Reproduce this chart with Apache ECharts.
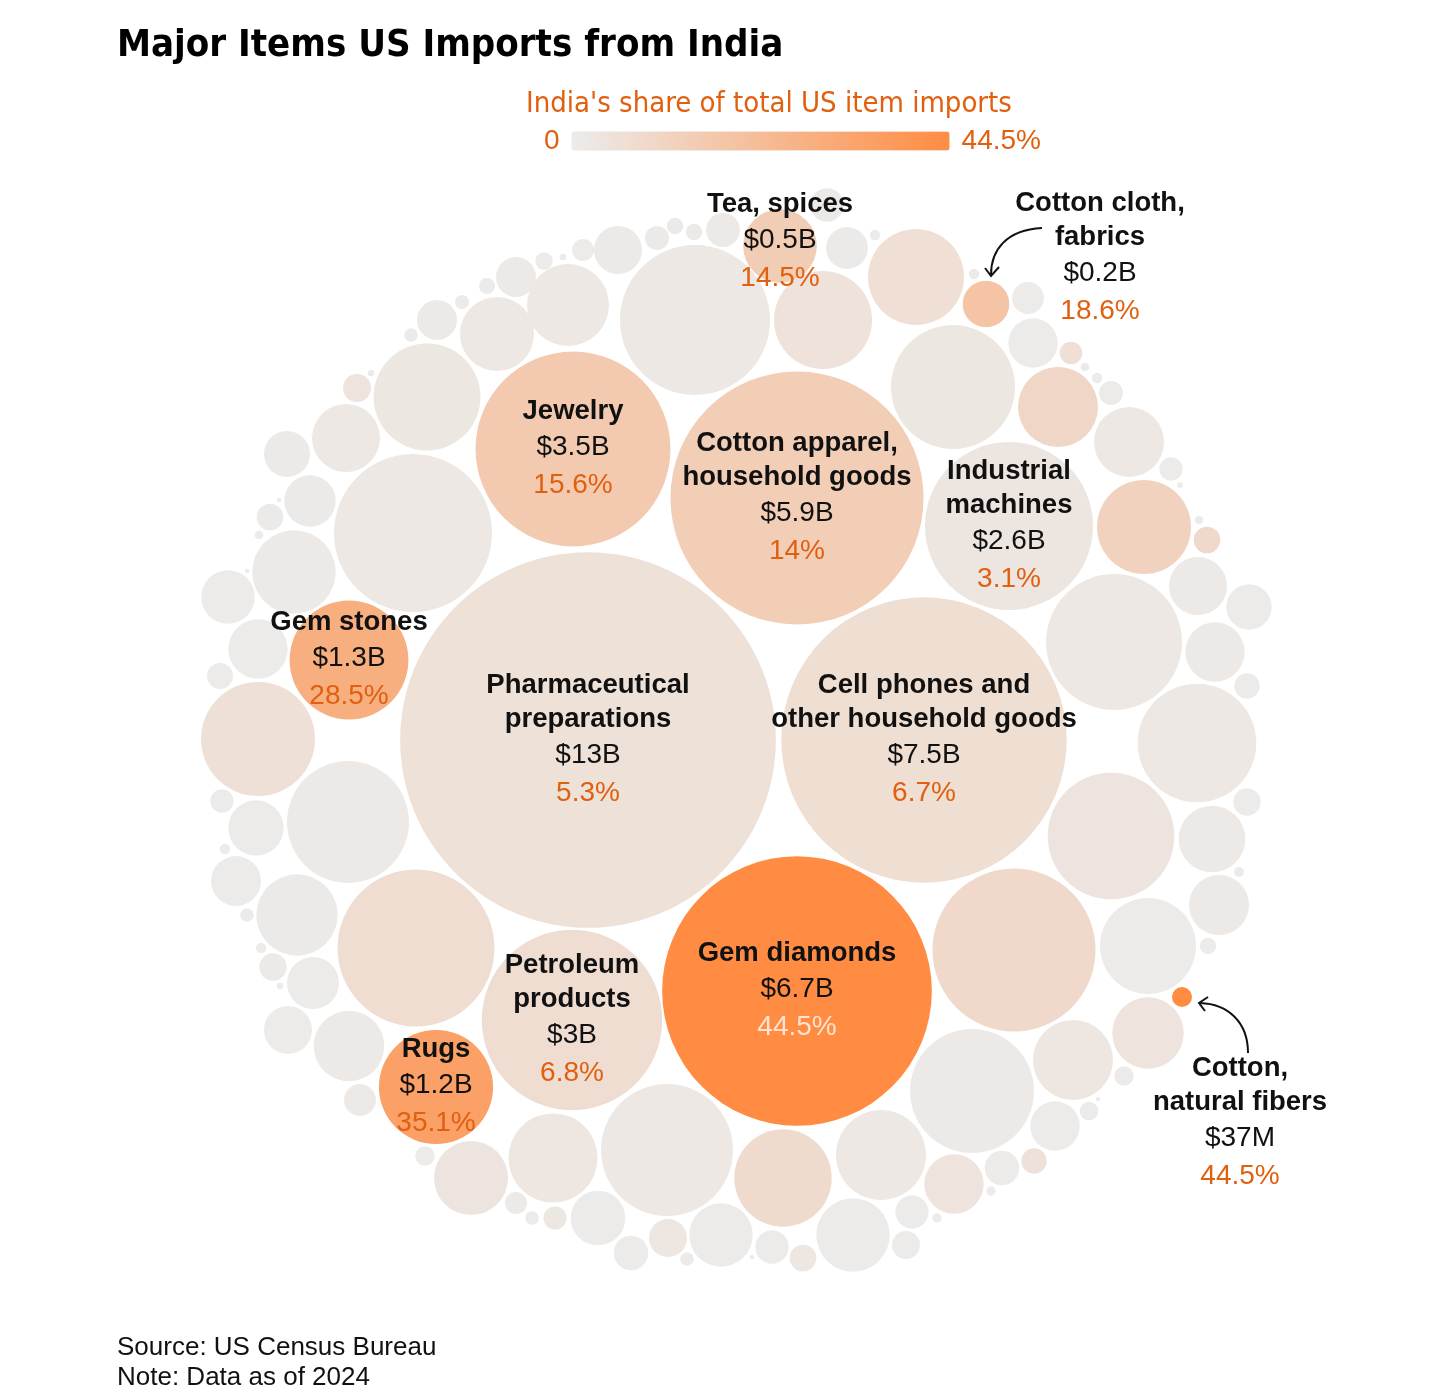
<!DOCTYPE html>
<html><head><meta charset="utf-8">
<script src="https://cdn.jsdelivr.net/npm/echarts@6/dist/echarts.min.js"></script>
<style>html,body{margin:0;padding:0;background:#fff}#c{width:1432px;height:1397px}</style>
</head><body><div id="c"></div>
<script>
// Item names ('' = unlabeled item)
const names = [
 'Pharmaceutical\npreparations','Cell phones and\nother household goods','Gem diamonds','Cotton apparel,\nhousehold goods',
 'Jewelry','Petroleum\nproducts','Industrial\nmachines','Gem stones','Rugs','Tea, spices','Cotton cloth,\nfabrics','Cotton,\nnatural fibers'
];
// Import value, $ billions
const values = [
 13,7.5,6.7,5.9,3.5,3,2.6,1.3,1.2,0.5,0.2,0.037,
 0.147,0.028,0.024,0.147,0.018,0.504,0.017,1.054,0.072,0.004,0.426,0.195,0.243,0.065,0.002,0.007,0.641,2.299,
 0.619,0.045,0.004,0.212,0.053,0.025,0.025,0.106,2.072,0.103,0.162,0.010,0.885,0.849,0.010,0.094,1.416,0.225,
 0.047,0.007,0.010,0.053,0.589,0.451,0.050,0.003,0.814,0.007,0.065,1.704,0.310,0.190,0.325,0.059,1.295,0.069,
 1.476,0.409,0.009,0.332,0.849,0.025,2.447,0.470,0.589,0.035,1.416,0.032,0.225,0.002,0.059,0.110,0.008,0.325,
 0.008,0.102,0.072,0.746,0.496,0.065,0.103,0.002,0.874,0.370,0.017,0.133,0.110,1.605,0.275,0.730,0.049,0.017,
 0.045,0.504,0.035,0.094,0.459,0.212,0.249,0.004,0.069,0.010,0.610,0.017,2.270,1.371,0.230,0.010,0.283,0.050,
 1.197,0.062,0.325,0.263,0.002
];
// India's share of total US item imports, %
const shares = [
 5.3,6.7,44.5,14,15.6,6.8,3.1,28.5,35.1,14.5,18.6,44.5,
 1.5,0.5,0.5,1.5,0.5,2,0.5,2.5,4,0.5,2,1,1,1,0.5,0.5,1.5,2,
 2,0.5,0.5,1.5,1,1,1,1.5,2,1,1,0.5,4.5,6,0.5,0.5,2.5,0.5,
 6,0.5,0.5,0.5,10,2,0.5,0.5,12,0.5,9,2,1.5,0.5,1.5,0.5,2,0.5,
 3.5,1.5,0.5,1.5,0.5,0.5,9,4,3,0.5,1.5,0.5,0.5,0.5,5,0.5,0.5,4,
 0.5,0.5,0.5,2,0.5,3,0.5,0.5,8,0.5,0.5,3,0.5,2,0.5,3,2.5,0.5,
 1,3.5,0.5,1.5,1.5,0.5,0.5,0.5,1.5,0.5,1,0.5,7,1.5,0.5,0.5,0.5,0.5,
 5.5,0.5,0.5,0.5,0.5
];
// Packed-bubble layout coordinates
const packX = [
 588,924,797,797,573,572,1009,349,436,780,986,1182,
 516,544,487,437,462,497,411,427,357,371,346,287,310,270,279,259,294,413,
 568,583,563,618,657,675,694,723,695,827,847,875,823,916,974,1028,953,1033,
 1071,1085,1097,1111,1058,1129,1171,1180,1144,1199,1207,1114,1198,1249,1215,1247,1197,1247,
 1111,1212,1239,1219,1148,1208,1014,1148,1073,1124,972,1089,1055,1098,1034,1002,991,954,
 937,912,906,881,853,803,772,752,783,721,687,668,631,667,598,553,555,532,
 516,471,425,360,349,288,313,280,273,261,297,247,416,348,236,225,256,222,
 258,220,258,228,247
];
const packY = [
 740,740,991,498,449,1020,526,660,1087,246,304,997,
 277,261,286,320,302,334,335,397,388,373,438,454,501,517,500,535,572,533,
 305,250,257,250,238,226,232,230,320,205,248,235,320,277,274,298,387,343,
 353,367,378,393,407,442,469,485,527,520,540,642,586,607,652,686,743,802,
 836,839,872,905,946,946,950,1033,1060,1076,1091,1111,1126,1099,1161,1168,1191,1184,
 1218,1212,1245,1155,1235,1258,1247,1257,1178,1235,1259,1238,1253,1150,1218,1158,1218,1218,
 1203,1178,1156,1100,1046,1030,983,986,967,948,915,915,948,822,881,849,828,801,
 739,676,649,597,571
];
const legendTicks = ['0', '44.5%'];
const maxShare = 44.5;

const F = "'Liberation Sans', Arial, sans-serif";
const FN = "'Liberation Sans Narrow', 'DejaVu Sans Condensed', 'Liberation Sans', sans-serif";
const ORANGE = '#e0600f';
const PX_PER_SQRT_B = 52.1; // bubble radius scale: r = k * sqrt(value)

function fmtValue(v) {
  if (v < 0.1) return '$' + Math.round(v * 1000) + 'M';
  return '$' + v + 'B';
}

const labelOffsets = { 9: [0, -4], 10: [114, -46], 11: [58, 126] };

const data = values.map((v, i) => {
  const item = { value: [packX[i], packY[i], v, shares[i]] };
  if (names[i]) {
    item.label = { show: true, position: 'inside', offset: labelOffsets[i] || [0, 0] };
  }
  return item;
});

const chart = echarts.init(document.getElementById('c'), null, { renderer: 'canvas' });
chart.setOption({
  animation: false,
  backgroundColor: '#fff',
  title: [
    { text: 'Major Items US Imports from India', left: 112, top: 22,
      textStyle: { fontFamily: FN, fontWeight: 'bold', fontSize: 38, color: '#000' } },
    { text: "India's share of total US item imports", left: 521, top: 85,
      textStyle: { fontFamily: FN, fontWeight: 'normal', fontSize: 29, color: ORANGE } },
    { text: 'Source: US Census Bureau\nNote: Data as of 2024', left: 112, top: 1328,
      textStyle: { fontFamily: F, fontWeight: 'normal', fontSize: 26, lineHeight: 30, color: '#111' } }
  ],
  grid: { left: 0, right: 0, top: 0, bottom: 0 },
  xAxis: { type: 'value', min: 0, max: 1432, show: false },
  yAxis: { type: 'value', min: 0, max: 1397, inverse: true, show: false },
  visualMap: {
    type: 'continuous', min: 0, max: maxShare, dimension: 3, seriesIndex: 0,
    orient: 'horizontal', left: 529, top: 112, itemWidth: 19, itemHeight: 378,
    text: [legendTicks[1], legendTicks[0]], textGap: 12, calculable: false, hoverLink: false,
    textStyle: { fontFamily: F, fontSize: 28, color: ORANGE },
    inRange: { color: ['#ececec', '#ff8c42'] }
  },
  series: [{
    type: 'scatter',
    data: data,
    symbol: 'circle',
    symbolSize: (val) => 2 * PX_PER_SQRT_B * Math.sqrt(val[2]),
    itemStyle: { opacity: 1 },
    emphasis: { disabled: true },
    label: {
      show: false,
      formatter: (p) => {
        const i = p.dataIndex;
        const sKey = shares[i] >= 44.5 && values[i] > 1 ? 'sw' : 's';
        return '{n|' + names[i] + '}\n{v|' + fmtValue(values[i]) + '}\n{' + sKey + '|' + shares[i] + '%}';
      },
      rich: {
        n: { fontFamily: F, fontWeight: 'bold', fontSize: 27.5, lineHeight: 34, color: '#111' },
        v: { fontFamily: F, fontSize: 28, lineHeight: 38, color: '#111' },
        s: { fontFamily: F, fontSize: 28, lineHeight: 37, color: ORANGE },
        sw: { fontFamily: F, fontSize: 28, lineHeight: 37, color: '#ffe3d0' }
      }
    }
  }],
  graphic: [
    { type: 'bezierCurve', z: 100,
      shape: { x1: 1042, y1: 228, cpx1: 1006, cpy1: 230, cpx2: 991, cpy2: 250, x2: 991, y2: 275 },
      style: { stroke: '#111', lineWidth: 2, fill: null } },
    { type: 'polyline', z: 100, shape: { points: [[985, 268], [991, 276], [999, 267]] },
      style: { stroke: '#111', lineWidth: 2, fill: null } },
    { type: 'bezierCurve', z: 100,
      shape: { x1: 1248, y1: 1053, cpx1: 1248, cpy1: 1022, cpx2: 1228, cpy2: 1004, x2: 1200, y2: 1003 },
      style: { stroke: '#111', lineWidth: 2, fill: null } },
    { type: 'polyline', z: 100, shape: { points: [[1208, 997], [1199, 1003], [1205, 1011]] },
      style: { stroke: '#111', lineWidth: 2, fill: null } }
  ]
});
</script></body></html>
